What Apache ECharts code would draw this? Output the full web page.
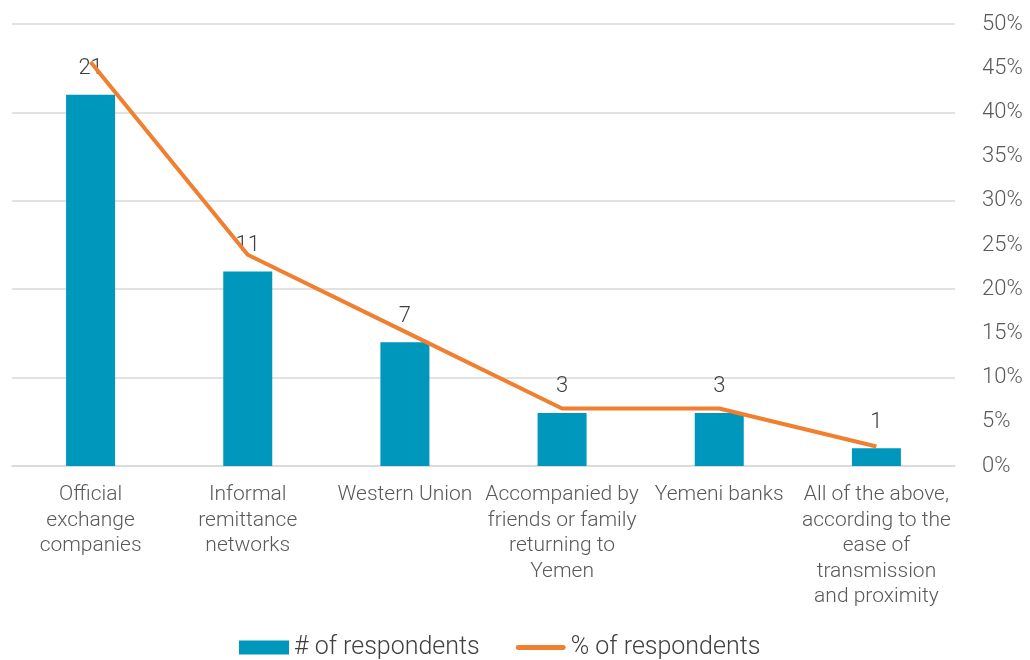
<!DOCTYPE html>
<html>
<head>
<meta charset="utf-8">
<script src="https://cdn.jsdelivr.net/npm/echarts@6/dist/echarts.min.js"></script>
<style>
  html, body { margin: 0; padding: 0; background: #fff; }
  #chart { width: 1030px; height: 660px; }
</style>
</head>
<body>
<div id="chart"></div>
<script>
  // data
  var categories = [
    'Official\nexchange\ncompanies',
    'Informal\nremittance\nnetworks',
    'Western Union',
    'Accompanied by\nfriends or family\nreturning to\nYemen',
    'Yemeni banks',
    'All of the above,\naccording to the\nease of\ntransmission\nand proximity'
  ]
  var respondents = [21, 11, 7, 3, 3, 1]
  var respondentsPct = [45.7, 23.9, 15.2, 6.5, 6.5, 2.2]

  var chart = echarts.init(document.getElementById('chart'))
  var font = 'Roboto'

  chart.setOption({
    animation: false,
    textStyle: { fontFamily: font, fontWeight: 300 },
    grid: {
      left: 12,
      right: 75,
      top: 24,
      bottom: 194,
      containLabel: false
    },
    legend: {
      top: 635,
      left: 239,
      padding: 0,
      itemWidth: 50,
      itemHeight: 14,
      itemGap: 36,
      textStyle: { fontSize: 25, color: '#404040', fontFamily: font, fontWeight: 300 },
      data: [
        { name: '# of respondents', icon: 'rect' },
        { name: '% of respondents', icon: 'path://M2,0 L48,0 A2.5,2.5 0 0 1 48,5 L2,5 A2.5,2.5 0 0 1 2,0 Z' }
      ]
    },
    xAxis: {
      type: 'category',
      data: categories,
      axisLine: { show: true, lineStyle: { color: '#d9d9d9', width: 1.5 } },
      axisTick: { show: false },
      axisLabel: {
        interval: 0,
        margin: 16,
        fontSize: 21,
        lineHeight: 25.5,
        color: '#595959',
        fontFamily: font,
        fontWeight: 300
      }
    },
    yAxis: [{
      type: 'value',
      min: 0,
      max: 25,
      interval: 5,
      axisLabel: { show: false },
      axisLine: { show: false },
      axisTick: { show: false },
      splitLine: { lineStyle: { color: '#d9d9d9', width: 1.5 } }
    }, {
      type: 'value',
      position: 'right',
      min: 0,
      max: 50,
      interval: 5,
      axisLine: { show: false },
      axisTick: { show: false },
      splitLine: { show: false },
      axisLabel: {
        formatter: '{value}%',
        margin: 27,
        fontSize: 22,
        color: '#595959',
        fontFamily: font,
        fontWeight: 300
      }
    }],
    series: [{
      name: '# of respondents',
      type: 'bar',
      yAxisIndex: 0,
      barWidth: 49,
      itemStyle: { color: '#0097BD' },
      label: {
        show: true,
        position: 'top',
        distance: 15,
        fontSize: 22,
        color: '#404040',
        fontFamily: font,
        fontWeight: 300
      },
      data: respondents
    }, {
      name: '% of respondents',
      type: 'line',
      yAxisIndex: 1,
      symbol: 'none',
      z: 3,
      itemStyle: { color: '#F07F2F' },
      lineStyle: { color: '#F07F2F', width: 4 },
      data: respondentsPct
    }]
  })
</script>
</body>
</html>
